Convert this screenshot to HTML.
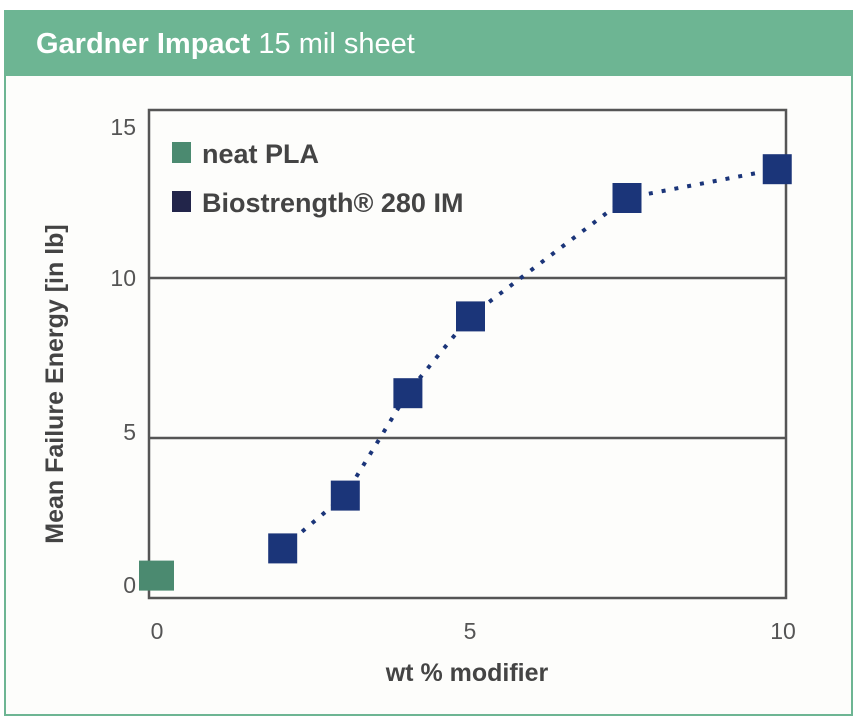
<!DOCTYPE html>
<html><head><meta charset="utf-8"><style>
body{margin:0;width:856px;height:728px;background:#fff;font-family:"Liberation Sans",sans-serif;overflow:hidden}
#card{position:absolute;left:4px;top:10px;width:845px;height:702px;border:2px solid #6db593;background:#fdfdfb}
#hdr{position:absolute;left:0;top:0;width:845px;height:64px;background:#6db593;color:#fff;font-size:29px;line-height:64px;padding-left:30px;box-sizing:border-box}
</style></head><body>
<div id="card">
<div id="hdr"><b>Gardner Impact</b> 15 mil sheet</div>
</div>
<svg id="chart" width="856" height="728" style="position:absolute;left:0;top:0"></svg>
<script>
const xTicks=[0,5,10];
const yTicks=[0,5,10,15];
const neatX=[0];
const neatY=[0.7];
const bioX=[2,3,4,5,7.5,9.9];
const bioY=[1.55,3.2,6.4,8.8,12.5,13.4];
const NS='http://www.w3.org/2000/svg';
const svg=document.getElementById('chart');
const X=v=>157+v*62.6;
const Y=v=>598-v*32;
function mk(t,a,name){const e=document.createElementNS(NS,t);for(const k in a)e.setAttribute(k,a[k]);


svg.appendChild(e);return e;}
[5,10].forEach(v=>mk('line',{x1:149,x2:786,y1:Y(v),y2:Y(v),stroke:'#555','stroke-width':2.5},'gridline-'+v));
mk('rect',{x:149,y:110,width:637,height:488,fill:'none',stroke:'#555','stroke-width':2.5},'plot-frame');
const yOff={0:-5,5:2,10:8,15:17};
yTicks.forEach(v=>{const t=mk('text',{x:136,y:Y(v)+yOff[v],'text-anchor':'end','font-size':23,fill:'#555'},'y-tick-'+v);t.textContent=v;});
xTicks.forEach(v=>{const t=mk('text',{x:X(v),y:639,'text-anchor':'middle','font-size':23,fill:'#555'},'x-tick-'+v);t.textContent=v;});
let t=mk('text',{x:467,y:681,'text-anchor':'middle','font-size':25,'font-weight':'bold',fill:'#444'},'x-axis-title');t.textContent='wt % modifier';
t=mk('text',{x:63,y:384,'text-anchor':'middle','font-size':25,'font-weight':'bold',fill:'#444',transform:'rotate(-90 63 384)'},'y-axis-title');t.textContent='Mean Failure Energy [in lb]';
let d='';bioX.forEach((x,i)=>{d+=(i?'L':'M')+X(x)+' '+Y(bioY[i]);});
mk('path',{d:d,fill:'none',stroke:'#1b3579','stroke-width':4,'stroke-dasharray':'4 9'},'bio-trend-line');
neatX.forEach((x,i)=>mk('rect',{x:X(x)-18,y:Y(neatY[i])-15,width:35,height:30,fill:'#4b8a70'},'neat-pla-point'));
bioX.forEach((x,i)=>mk('rect',{x:X(x)-14,y:Y(bioY[i])-15,width:29,height:30,fill:'#1b3579'},'bio-point-'+x));
mk('rect',{x:172,y:142,width:19,height:21,fill:'#4b8a70'},'legend-neat-swatch');
t=mk('text',{x:202,y:163,'font-size':27,'font-weight':'bold',fill:'#444'},'legend-neat-label');t.textContent='neat PLA';
mk('rect',{x:172,y:191,width:19,height:21,fill:'#22254a'},'legend-bio-swatch');
t=mk('text',{x:202,y:212,'font-size':27,'font-weight':'bold',fill:'#444'},'legend-bio-label');t.textContent='Biostrength® 280 IM';
</script>
</body></html>
